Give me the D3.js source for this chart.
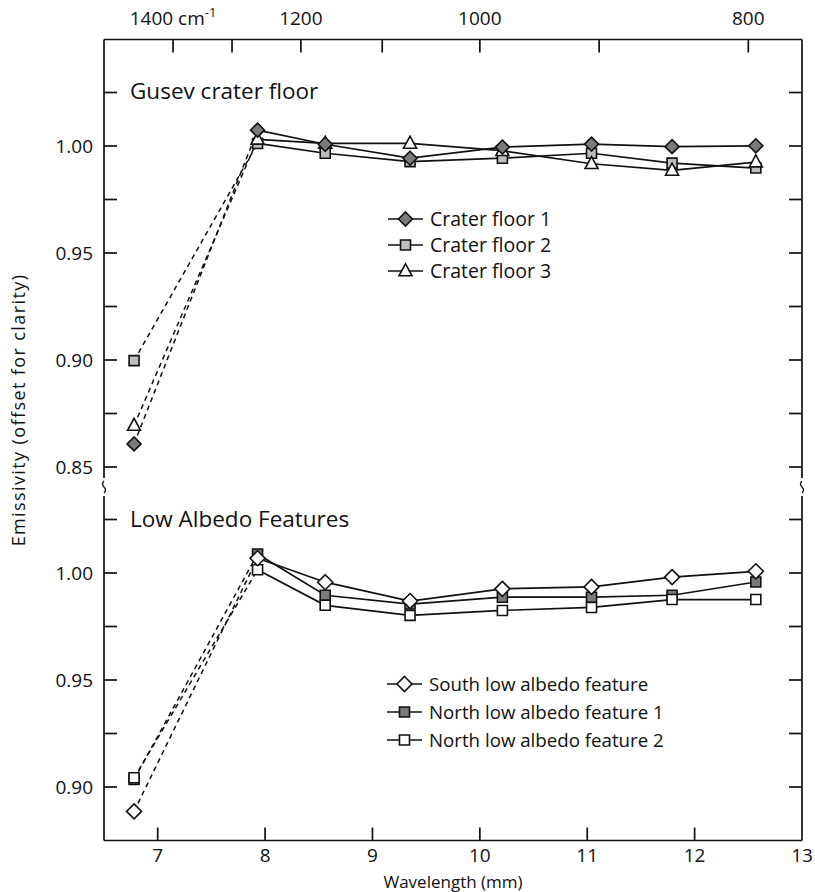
<!DOCTYPE html>
<html>
<head>
<meta charset="utf-8">
<script src="https://cdn.jsdelivr.net/npm/d3@7"></script>
<style>
body { margin: 0; background: #fff; }
text { font-family: "Open Sans", "DejaVu Sans", sans-serif; fill: #111; }
</style>
</head>
<body>
<script>
// THEMIS band centres (um)
var wavelengths = [6.78, 7.93, 8.56, 9.35, 10.21, 11.04, 11.79, 12.57];

// Gusev crater floor
var craterFloor1 = [0.8608, 1.0074, 1.0008, 0.9943, 0.9995, 1.0009, 0.9997, 1.0001];
var craterFloor2 = [0.8997, 1.0012, 0.9966, 0.9927, 0.9943, 0.9966, 0.9920, 0.9897];
var craterFloor3 = [0.8694, 1.0031, 1.0012, 1.0012, 0.9978, 0.9917, 0.9886, 0.9925];

// Low albedo features
var southLow = [0.8886, 1.0069, 0.9957, 0.9869, 0.9926, 0.9935, 0.9981, 1.0008];
var northLow1 = [0.9035, 1.0089, 0.9896, 0.9855, 0.9887, 0.9887, 0.9896, 0.9958];
var northLow2 = [0.9043, 1.0015, 0.9849, 0.9802, 0.9825, 0.9839, 0.9876, 0.9876];

var xTickValues = [7, 8, 9, 10, 11, 12, 13];
var wavenumberTicks = [1400, 1300, 1200, 1100, 1000, 900, 800];
var wavenumberLabels = [1400, 1200, 1000, 800];
var upperTickLabels = [0.85, 0.90, 0.95, 1.00];
var lowerTickLabels = [0.90, 0.95, 1.00];

var width = 815, height = 892;
// note: "top" clashes with window.top, so use plotTop
var plotLeft = 104, plotRight = 802, plotTop = 39.5, plotBottom = 840.5;
var breakTop = 478, breakBottom = 496;
var TICK = 13;

var svg = d3.select("body").append("svg")
    .attr("width", width)
    .attr("height", height);

var x = d3.scaleLinear().domain([6.5, 13]).range([plotLeft, plotRight]);
var yUpper = d3.scaleLinear().domain([0.85, 1.05]).range([467, 39]);
var yLower = d3.scaleLinear().domain([0.875, 1.00]).range([840.5, 573]);

function diamond(r) { return "M0," + (-r) + "L" + r + ",0L0," + r + "L" + (-r) + ",0Z"; }
function square(s) { var h = s / 2; return "M" + (-h) + "," + (-h) + "h" + s + "v" + s + "h" + (-s) + "Z"; }
function triangle(w, h) { return "M0," + (-h * 0.6) + "L" + (w / 2) + "," + (h * 0.4) + "L" + (-w / 2) + "," + (h * 0.4) + "Z"; }

var upperSeries = [
    { name: "Crater floor 2", values: craterFloor2, shape: square(10), fill: "#bdbdbd" },
    { name: "Crater floor 3", values: craterFloor3, shape: triangle(13, 12), fill: "#fff" },
    { name: "Crater floor 1", values: craterFloor1, shape: diamond(7), fill: "#7a7a7a" }
];
var lowerSeries = [
    { name: "North low albedo feature 1", values: northLow1, shape: square(10), fill: "#7a7a7a" },
    { name: "North low albedo feature 2", values: northLow2, shape: square(10), fill: "#fff" },
    { name: "South low albedo feature", values: southLow, shape: diamond(7.5), fill: "#fff" }
];

// frame lines with the axis break
var frame = svg.append("g").attr("stroke", "#111").attr("stroke-width", 1.7).attr("fill", "none");
frame.append("line").attr("x1", plotLeft).attr("x2", plotRight).attr("y1", plotTop).attr("y2", plotTop);
frame.append("line").attr("x1", plotLeft).attr("x2", plotRight).attr("y1", plotBottom).attr("y2", plotBottom);
[plotLeft, plotRight].forEach(function (xx) {
    frame.append("line").attr("x1", xx).attr("x2", xx).attr("y1", plotTop).attr("y2", breakTop);
    frame.append("line").attr("x1", xx).attr("x2", xx).attr("y1", breakBottom).attr("y2", plotBottom);
    frame.append("path")
        .attr("stroke-width", 1.3)
        .attr("d", "M" + xx + "," + (breakTop + 3) + "q-3,3 0,6 q3,3 0,6");
});

// bottom axis ticks + labels
var bt = svg.append("g");
xTickValues.forEach(function (v) {
    if (v < 13) {
        bt.append("line").attr("x1", x(v)).attr("x2", x(v))
            .attr("y1", plotBottom).attr("y2", plotBottom - TICK)
            .attr("stroke", "#111").attr("stroke-width", 1.7);
    }
    bt.append("text").attr("x", x(v)).attr("y", 862)
        .attr("text-anchor", "middle").style("font-size", "19px").text(v);
});
svg.append("text").attr("x", (plotLeft + plotRight) / 2).attr("y", 888)
    .attr("text-anchor", "middle").style("font-size", "17px").text("Wavelength (mm)");

// top axis: wavenumbers
var tt = svg.append("g");
wavenumberTicks.forEach(function (wn) {
    tt.append("line").attr("x1", x(10000 / wn)).attr("x2", x(10000 / wn))
        .attr("y1", plotTop).attr("y2", plotTop + TICK)
        .attr("stroke", "#111").attr("stroke-width", 1.7);
});
wavenumberLabels.forEach(function (wn) {
    var t = tt.append("text").attr("x", x(10000 / wn)).attr("y", 25)
        .attr("text-anchor", "middle").style("font-size", "19px");
    if (wn === 1400) {
        t.append("tspan").text("1400 cm");
        t.append("tspan").attr("dy", -8).style("font-size", "13px").text("-1");
    } else {
        t.text(wn);
    }
});

// left/right ticks for each panel
function yTicks(scale, lo, hi, labels) {
    var g = svg.append("g");
    for (var v = lo; v <= hi + 1e-9; v += 0.025) {
        var yy = scale(v);
        g.append("line").attr("x1", plotLeft).attr("x2", plotLeft + TICK).attr("y1", yy).attr("y2", yy)
            .attr("stroke", "#111").attr("stroke-width", 1.7);
        g.append("line").attr("x1", plotRight).attr("x2", plotRight - TICK).attr("y1", yy).attr("y2", yy)
            .attr("stroke", "#111").attr("stroke-width", 1.7);
    }
    labels.forEach(function (v) {
        g.append("text").attr("x", plotLeft - 11).attr("y", scale(v)).attr("dy", "0.35em")
            .attr("text-anchor", "end").style("font-size", "19px").text(v.toFixed(2));
    });
}
yTicks(yUpper, 0.85, 1.025, upperTickLabels);
yTicks(yLower, 0.90, 1.025, lowerTickLabels);

svg.append("text")
    .attr("transform", "translate(25," + 410 + ") rotate(-90)")
    .attr("text-anchor", "middle").style("font-size", "18px")
    .style("letter-spacing", "1.4px")
    .text("Emissivity (offset for clarity)");

// panel titles
svg.append("text").attr("x", 130).attr("y", 99).style("font-size", "22.5px").text("Gusev crater floor");
svg.append("text").attr("x", 130).attr("y", 527).style("font-size", "22.5px").text("Low Albedo Features");

function drawPanel(series, y) {
    var g = svg.append("g");
    var line = d3.line()
        .x(function (d) { return x(d[0]); })
        .y(function (d) { return y(d[1]); });
    series.forEach(function (s) {
        var pts = wavelengths.map(function (w, i) { return [w, s.values[i]]; });
        g.append("path").datum(pts.slice(0, 2)).attr("d", line)
            .attr("fill", "none").attr("stroke", "#111").attr("stroke-width", 1.5)
            .attr("stroke-dasharray", "5,4");
        g.append("path").datum(pts.slice(1)).attr("d", line)
            .attr("fill", "none").attr("stroke", "#111").attr("stroke-width", 1.7);
    });
    series.forEach(function (s) {
        g.selectAll(null).data(wavelengths).enter().append("path")
            .attr("d", s.shape)
            .attr("transform", function (w, i) { return "translate(" + x(w) + "," + y(s.values[i]) + ")"; })
            .attr("fill", s.fill).attr("stroke", "#111").attr("stroke-width", 1.6);
    });
}
drawPanel(upperSeries, yUpper);
drawPanel(lowerSeries, yLower);

// legends
function legend(items, x0, y0, step, fontSize) {
    var g = svg.append("g");
    items.forEach(function (s, i) {
        var yy = y0 + i * step;
        g.append("line").attr("x1", x0).attr("x2", x0 + 35).attr("y1", yy).attr("y2", yy)
            .attr("stroke", "#111").attr("stroke-width", 1.7);
        g.append("path").attr("d", s.shape)
            .attr("transform", "translate(" + (x0 + 17.5) + "," + yy + ")")
            .attr("fill", s.fill).attr("stroke", "#111").attr("stroke-width", 1.6);
        g.append("text").attr("x", x0 + 42).attr("y", yy).attr("dy", "0.35em")
            .style("font-size", fontSize).text(s.name);
    });
}
legend([upperSeries[2], upperSeries[0], upperSeries[1]], 388, 219, 26, "19.5px");
legend([lowerSeries[2], lowerSeries[0], lowerSeries[1]], 387, 684, 28, "18.7px");
</script>
</body>
</html>
